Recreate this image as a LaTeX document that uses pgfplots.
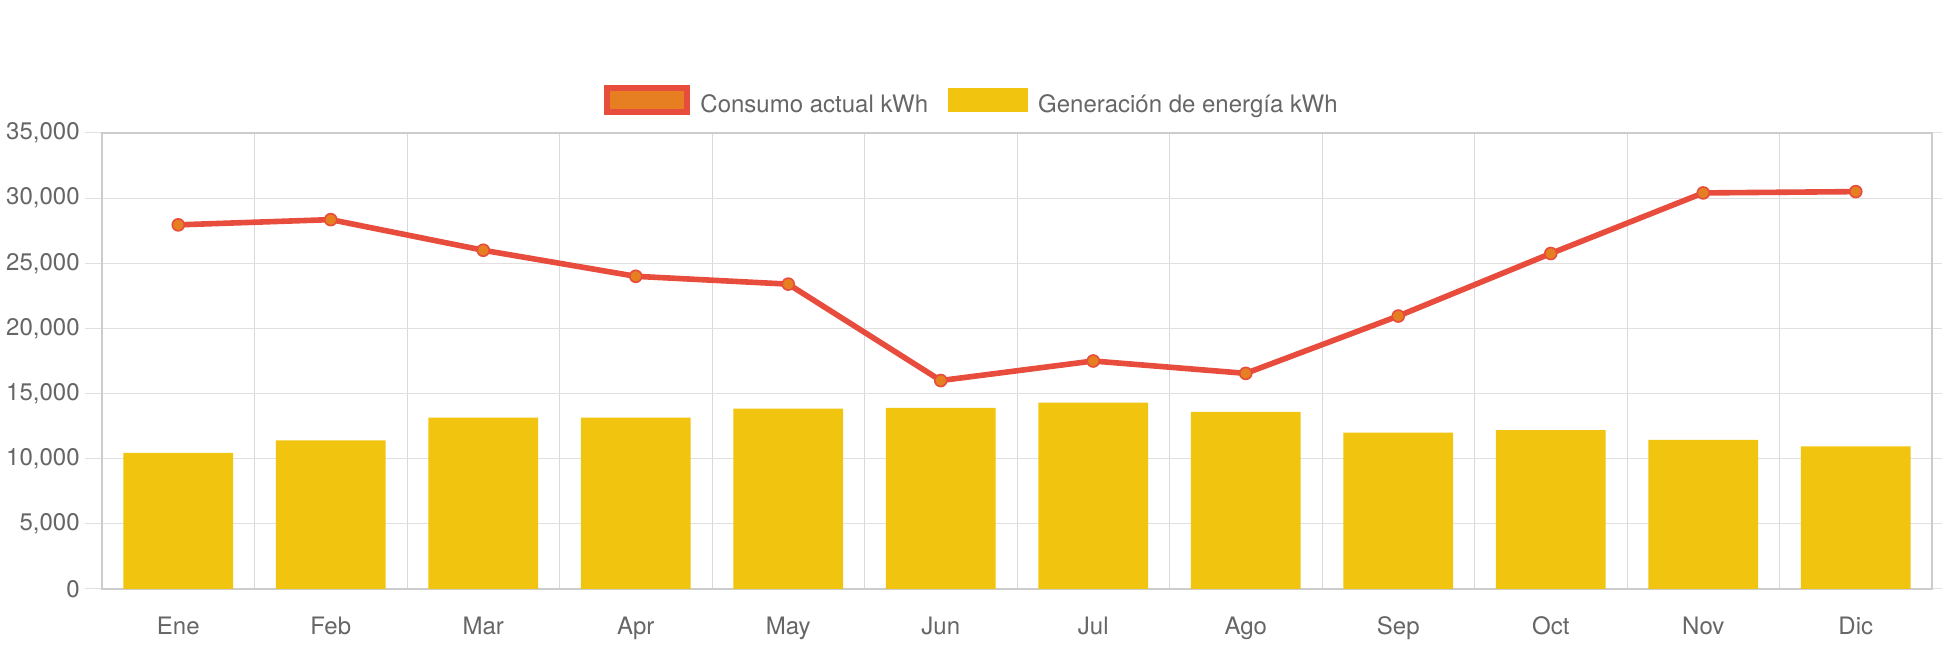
\documentclass[border=0pt]{standalone}
\usepackage{pgfplots}
\pgfplotsset{compat=1.18}
\usepackage{fontspec}
\setmainfont{TeX Gyre Heros}
\definecolor{linered}{HTML}{E74C3C}
\definecolor{markorange}{HTML}{E67E22}
\definecolor{baryellow}{HTML}{F1C40F}
\definecolor{txt}{HTML}{666666}
\begin{document}
\begin{tikzpicture}
\begin{axis}[
  scale only axis,
  width=915pt, height=228pt,
  xmin=-0.5, xmax=11.5,
  ymin=0, ymax=35000,
  xtick={0,...,11},
  xticklabels={Ene,Feb,Mar,Apr,May,Jun,Jul,Ago,Sep,Oct,Nov,Dic},
  minor xtick={-0.5,0.5,...,11.5},
  ytick={0,5000,...,35000},
  xmajorgrids=false, xminorgrids=true, ymajorgrids=true,
  major grid style={black!12, line width=0.5pt},
  minor grid style={black!15, line width=0.5pt},
  tick align=outside,
  major tick length=8.5pt,
  minor tick length=7.5pt,
  xtick style={draw=none},
  ytick style={black!12, line width=0.5pt},
  minor tick style={black!15, line width=0.5pt},
  axis line style={black!20, line width=0.6pt},
  scaled y ticks=false,
  /pgf/number format/.cd, 1000 sep={,}, assume math mode=true,
  /pgfplots/.cd,
  tick label style={font=\fontsize{12}{14}\selectfont, text=txt},
  yticklabel style={inner sep=2.5pt},
  xticklabel style={inner sep=0pt, text height=9pt, text depth=3pt, yshift=-5pt},
  legend columns=2,
  legend style={draw=none, fill=none, font=\fontsize{12}{14}\selectfont, text=txt,
    at={(axis description cs:0.4749,1.0713)}, anchor=center,
    /tikz/every odd column/.append style={column sep=5pt},
    /tikz/every even column/.append style={column sep=10pt},
    nodes={inner sep=0pt}},
]
\addplot[draw=linered, line width=2.8pt, mark=*, mark size=3pt,
  mark options={fill=markorange, draw=linered, line width=0.8pt},
  legend image code/.code={\draw[line width=3pt, draw=linered, fill=markorange] (0pt,-3.5pt) rectangle (40pt,8.5pt);}]
  coordinates {(0,27950) (1,28350) (2,26000) (3,24000) (4,23400) (5,16000) (6,17500) (7,16550) (8,20950) (9,25750) (10,30400) (11,30500)};
\addlegendentry{Consumo actual kWh}
\addplot[ybar, bar width=0.72, fill=baryellow, draw=none,
  legend image code/.code={\fill[baryellow] (0pt,-3.5pt) rectangle (40pt,8.5pt);}]
  coordinates {(0,10450) (1,11400) (2,13150) (3,13150) (4,13850) (5,13900) (6,14300) (7,13600) (8,12000) (9,12200) (10,11450) (11,10950)};
\addlegendentry{Generación de energía kWh}
\end{axis}
\pgfresetboundingbox
\path (current axis.south west) ++(-51pt,-28.5pt) rectangle ++(971pt,323pt);
\end{tikzpicture}
\end{document}
